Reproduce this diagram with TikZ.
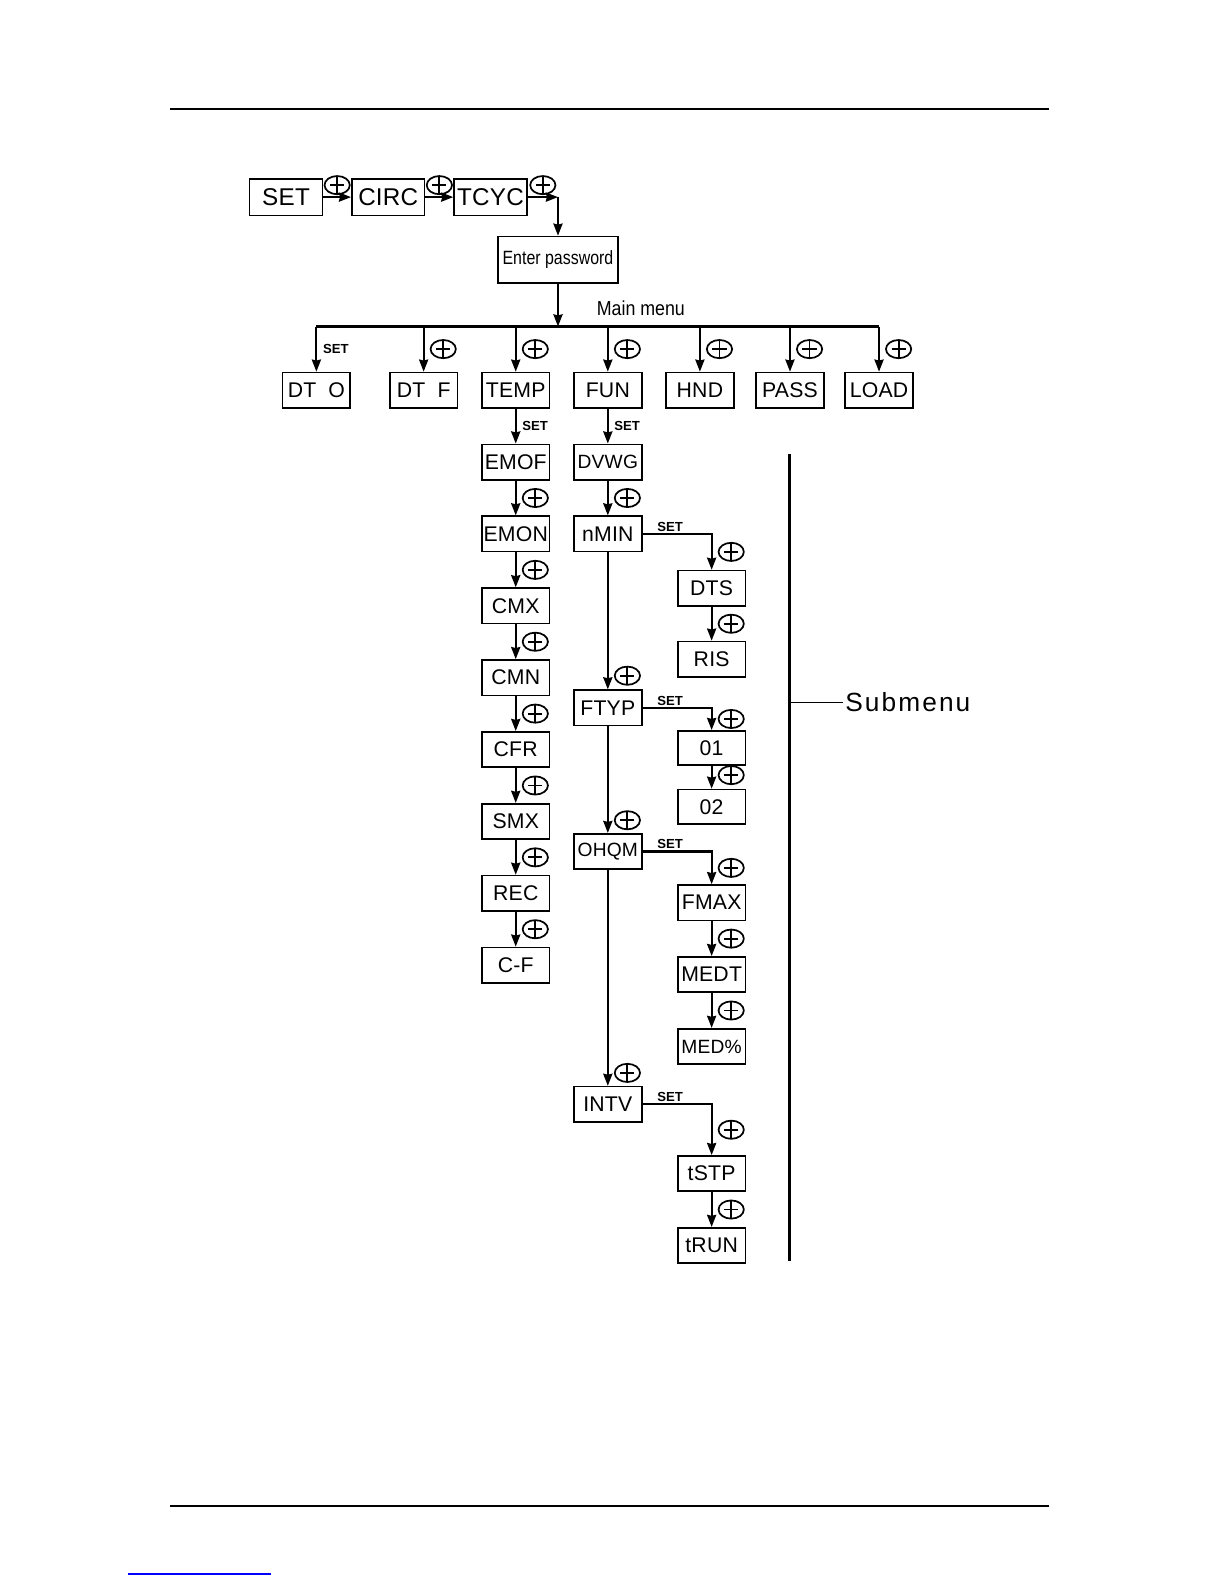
\documentclass[tikz,border=0pt]{standalone}
\usepackage{fontspec}
\usepackage{graphicx}
\setmainfont{Liberation Sans}
\newfontfamily\menufont{Liberation Sans}[LetterSpace=1]
\newfontfamily\subfont{Liberation Sans}[LetterSpace=8]
\usetikzlibrary{arrows.meta, positioning, shapes.geometric}
\tikzset{
  x=1pt, y=-1pt,
  >={Stealth[length=12pt, width=9pt, inset=1pt]},
  node distance=34.5pt,
  menubox/.style={draw, line width=1.6pt, minimum width=67pt, minimum height=35pt,
    inner sep=0pt, font=\menufont\fontsize{21}{23}\selectfont},
  narrowbox/.style={menubox, font=\menufont\fontsize{19}{21}\selectfont},
  topbox/.style={menubox, minimum width=72pt, minimum height=36pt,
    font=\menufont\fontsize{24}{26}\selectfont},
  flow/.style={->, line width=2.1pt},
  setlbl/.style={font=\bfseries\fontsize{13}{14}\selectfont, inner sep=1.5pt},
  btn/.style={draw, ellipse, line width=1.7pt, minimum width=25pt, minimum height=18pt,
    inner sep=0pt, path picture={
      \draw[-, line width=1.8pt] (path picture bounding box.north) -- (path picture bounding box.south)
        ([xshift=-7pt]path picture bounding box.center) -- ([xshift=7pt]path picture bounding box.center);}},
}
\begin{document}
\begin{tikzpicture}
  \fill[white] (0,0) rectangle (1212,1568);
  \useasboundingbox (0,0) rectangle (1212,1568);
  % page rules
  \draw[line width=1.4pt] (168,108) -- (1038,108);
  \draw[line width=1.4pt] (168,1490) -- (1038,1490);
  \draw[blue, line width=1.5pt] (127,1557) -- (268,1557);

  % top row
  \node[topbox] (set) at (283,195) {SET};
  \node[topbox, right=27.5pt of set] (circ) {CIRC};
  \node[topbox, right=27.5pt of circ] (tcyc) {TCYC};
  \coordinate (turn) at (552,195);
  \node[menubox, minimum width=119pt, minimum height=46pt, font=\fontsize{19}{21}\selectfont]
    (pw) at (552,257) {\scalebox{0.83}[1]{Enter password}};
  \path[flow] (set) edge node[btn, above=2pt] {} (circ)
              (circ) edge node[btn, above=2pt] {} (tcyc)
              (tcyc) edge node[btn, above=2pt] {} (turn)
              (turn) edge (turn |- pw.north);

  % main menu
  \coordinate (bus) at (552,323);
  \node[font=\fontsize{20}{22}\selectfont] (mainlbl) at (634,305) {\scalebox{0.88}[1]{Main menu}};
  \draw[flow] (pw) -- (bus);
  \node[menubox] (dto) at (313,386) {DT\ \ O};
  \node[menubox, right=37.5pt of dto] (dtf) {DT\ \ F};
  \node[menubox, right=22.5pt of dtf] (temp) {TEMP};
  \node[menubox, right=22.5pt of temp] (fun) {FUN};
  \node[menubox, right=22.5pt of fun] (hnd) {HND};
  \node[menubox, right=20.5pt of hnd] (pass) {PASS};
  \node[menubox, right=19.5pt of pass] (load) {LOAD};
  \draw[line width=2.1pt] (dto.north |- bus) -- (load.north |- bus);
  \path[flow] (dto.north |- bus) edge node[setlbl, right=4pt] {SET} (dto)
              (dtf.north |- bus) edge node[btn, right=6pt] {} (dtf)
              (temp.north |- bus) edge node[btn, right=6pt] {} (temp)
              (fun.north |- bus) edge node[btn, right=6pt] {} (fun)
              (hnd.north |- bus) edge node[btn, right=6pt] {} (hnd)
              (pass.north |- bus) edge node[btn, right=6pt] {} (pass)
              (load.north |- bus) edge node[btn, right=6pt] {} (load);

  % TEMP submenu
  \node[menubox, below=of temp] (emof) {EMOF};
  \node[menubox, below=of emof] (emon) {EMON};
  \node[menubox, below=of emon] (cmx) {CMX};
  \node[menubox, below=of cmx] (cmn) {CMN};
  \node[menubox, below=of cmn] (cfr) {CFR};
  \node[menubox, below=of cfr] (smx) {SMX};
  \node[menubox, below=of smx] (rec) {REC};
  \node[menubox, below=of rec] (cf) {C-F};
  \path[flow] (temp) edge node[setlbl, right=4pt] {SET} (emof)
              (emof) edge node[btn, right=6pt] {} (emon)
              (emon) edge node[btn, right=6pt] {} (cmx)
              (cmx) edge node[btn, right=6pt] {} (cmn)
              (cmn) edge node[btn, right=6pt] {} (cfr)
              (cfr) edge node[btn, right=6pt] {} (smx)
              (smx) edge node[btn, right=6pt] {} (rec)
              (rec) edge node[btn, right=6pt] {} (cf);

  % FUN submenu
  \node[narrowbox, below=of fun] (dvwg) {DVWG};
  \node[menubox, below=of dvwg] (nmin) {nMIN};
  \node[menubox, below=135.5pt of nmin] (ftyp) {FTYP};
  \node[narrowbox, below=105.5pt of ftyp] (ohqm) {OHQM};
  \node[menubox, below=213.5pt of ohqm] (intv) {INTV};
  \path[flow] (fun) edge node[setlbl, right=4pt] {SET} (dvwg)
              (dvwg) edge node[btn, right=6pt] {} (nmin)
              (nmin) edge node[btn, right=6pt, pos=0.9] {} (ftyp)
              (ftyp) edge node[btn, right=6pt, pos=0.88] {} (ohqm)
              (ohqm) edge node[btn, right=6pt, pos=0.94] {} (intv);

  % FUN parameters
  \node[menubox] (dts) at (704,582) {DTS};
  \node[menubox, below=33.5pt of dts] (ris) {RIS};
  \node[menubox, minimum height=34pt] (o1) at (704,740) {01};
  \node[menubox, minimum height=34pt, below=22.5pt of o1] (o2) {02};
  \node[menubox] (fmax) at (704,893) {FMAX};
  \node[menubox, below=of fmax] (medt) {MEDT};
  \node[narrowbox, below=of medt] (medpct) {MED\%};
  \node[menubox] (tstp) at (704,1161) {tSTP};
  \node[menubox, below=of tstp] (trun) {tRUN};
  \draw[flow] (nmin.east) -| (dts.north) node[setlbl, above, pos=0.2] {SET}
    node[btn, right=6pt, pos=0.75] {};
  \draw[flow] (ftyp.east) -| (o1.north) node[setlbl, above, pos=0.2] {SET}
    node[btn, right=6pt, pos=0.75] {};
  \draw[flow] (ohqm.east) -| (fmax.north) node[setlbl, above, pos=0.2] {SET}
    node[btn, right=6pt, pos=0.75] {};
  \draw[flow] (intv.east) -| (tstp.north) node[setlbl, above, pos=0.2] {SET}
    node[btn, right=6pt, pos=0.75] {};
  \path[flow] (dts) edge node[btn, right=6pt] {} (ris)
              (o1) edge node[btn, right=6pt, pos=0.4] {} (o2)
              (fmax) edge node[btn, right=6pt] {} (medt)
              (medt) edge node[btn, right=6pt] {} (medpct)
              (tstp) edge node[btn, right=6pt] {} (trun);

  % submenu bracket
  \coordinate (subtop) at (781,449);
  \coordinate (subbot) at (781,1247);
  \node[anchor=west, inner sep=2pt, font=\subfont\fontsize{26}{28}\selectfont] (sub) at (834,695) {Submenu};
  \draw[line width=2.2pt] (subtop) -- (subbot);
  \draw[line width=1.5pt] (subtop |- sub) -- (sub.west);
\end{tikzpicture}
\end{document}
